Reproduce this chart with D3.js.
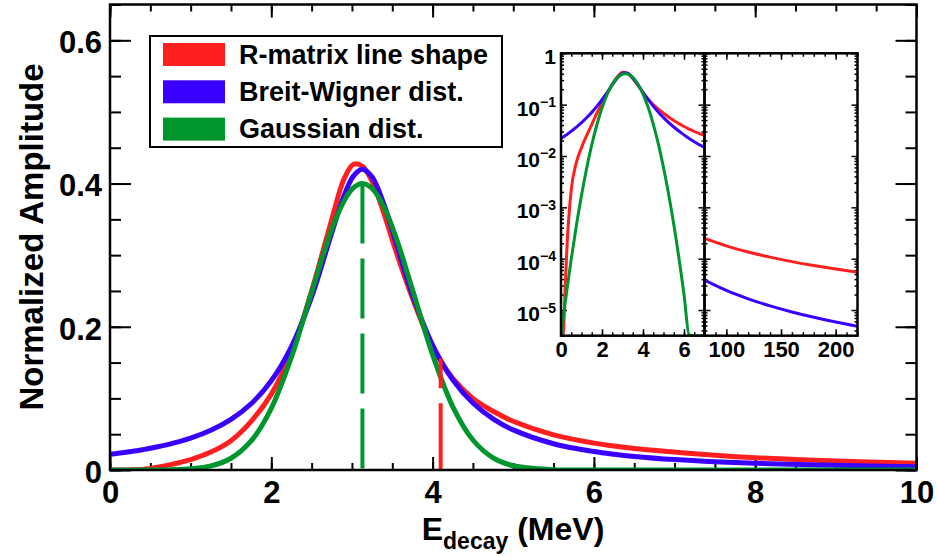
<!DOCTYPE html>
<html>
<head>
<meta charset="utf-8">
<script src="https://cdn.jsdelivr.net/npm/d3@7"></script>
<style>
  html, body { margin: 0; padding: 0; background: #fff; }
  svg { display: block; font-family: "Liberation Sans", Arial, Helvetica, sans-serif; font-weight: bold; }
</style>
</head>
<body>
<svg id="chart" width="938" height="557"></svg>
<script>
// ---- line-shape values (normalized amplitude) on a shared decay-energy grid, MeV ----
const energies = [0, 0.1, 0.2, 0.3, 0.4, 0.5, 0.75, 1, 1.25, 1.5, 1.75, 2, 2.25, 2.5, 2.75,
  2.9, 3.02, 3.13, 3.25, 3.4, 3.55, 3.75, 4, 4.25, 4.5, 4.75, 5, 5.5, 6, 6.25, 6.5, 7, 7.5, 8, 9, 10];

const rMatrix = [0, 2e-6, 2.5e-5, 2.0e-4, 8.0e-4, 2.2e-3, 7.5e-3, 0.0145, 0.0250, 0.041, 0.068,
  0.106, 0.164, 0.250, 0.350, 0.406, 0.427, 0.424, 0.403, 0.357, 0.304, 0.240, 0.172, 0.128,
  0.100, 0.082, 0.068, 0.049, 0.0375, 0.0335, 0.0300, 0.0250, 0.0205, 0.0170, 0.0125, 0.0096];

const breitWigner = [0.0219, 0.0233, 0.0248, 0.0264, 0.0283, 0.0303, 0.0364, 0.0445, 0.0555,
  0.0707, 0.0925, 0.1245, 0.1723, 0.2417, 0.3312, 0.3825, 0.4108, 0.4201, 0.4091, 0.3699,
  0.3163, 0.2450, 0.1745, 0.1261, 0.0936, 0.0715, 0.0560, 0.0367, 0.0258, 0.0220, 0.0190,
  0.0146, 0.0115, 0.0093, 0.0065, 0.0047];

const gaussian = [3.08e-6, 6.45e-6, 1.32e-5, 2.64e-5, 5.15e-5, 9.8e-5, 4.42e-4, 1.71e-3,
  5.72e-3, 0.01642, 0.04056, 0.0862, 0.1578, 0.2482, 0.3363, 0.3754, 0.3942, 0.4000, 0.3931,
  0.3664, 0.3236, 0.2520, 0.1610, 0.0886, 0.0419, 0.01707, 5.98e-3, 4.68e-4, 2.01e-5, 3.3e-6,
  4.7e-7, 6e-9, 0, 0, 0, 0];

// far high-energy tail
const tailEnergies = [80, 100, 120, 140, 160, 180, 200, 220];
const rMatrixTail = [2.48e-4, 1.775e-4, 1.350e-4, 1.071e-4, 8.77e-5, 7.35e-5, 6.27e-5, 5.44e-5];
const breitWignerTail = [3.825e-5, 2.408e-5, 1.655e-5, 1.206e-5, 9.18e-6, 7.22e-6, 5.83e-6, 4.81e-6];

// vertical reference lines: energy and height
const markerEnergies = [4.10, 3.13];
const markerHeights = [0.156, 0.400];

const seriesNames = ["R-matrix line shape", "Breit-Wigner dist.", "Gaussian dist."];
const seriesColors = ["#ff1f1f", "#3a00ff", "#00962e"];

const xTickValues = [0, 2, 4, 6, 8, 10];
const xTickLabels = ["0", "2", "4", "6", "8", "10"];
const yTickValues = [0, 0.2, 0.4, 0.6];
const yTickLabels = ["0", "0.2", "0.4", "0.6"];
const insetLeftTicks = [0, 2, 4, 6];
const insetRightTicks = [100, 150, 200];
const insetDecades = [1, 1e-1, 1e-2, 1e-3, 1e-4, 1e-5];
const insetDecadeExponents = [0, -1, -2, -3, -4, -5];

// ---------------------------------------------------------------------------
const svg = d3.select("#chart");
const fr = { left: 110, right: 916.5, top: 4.5, bottom: 470 };

const x = d3.scaleLinear().domain([0, 10]).range([fr.left, fr.right]);
const y = d3.scaleLinear().domain([0, 0.65]).range([fr.bottom, fr.top]);

function cleanAxis(g, width) {
  g.select(".domain").remove();
  g.attr("font-family", null).attr("font-size", null);
  g.selectAll(".tick line").attr("stroke", "#000").attr("stroke-width", width);
}

// minor / major tick lists
const xMinor = d3.range(0, 10.001, 0.5);
const yMinor = d3.range(0, 0.6501, 0.05);

// bottom
svg.append("g").attr("transform", `translate(0,${fr.bottom})`)
  .call(d3.axisBottom(x).tickValues(xMinor).tickSize(-7).tickSizeOuter(0).tickFormat(""))
  .call(g => cleanAxis(g, 2));
svg.append("g").attr("transform", `translate(0,${fr.bottom})`)
  .call(d3.axisBottom(x).tickValues(xTickValues).tickSize(-13).tickSizeOuter(0).tickPadding(11)
    .tickFormat((d, i) => xTickLabels[i]))
  .call(g => cleanAxis(g, 2))
  .call(g => g.selectAll(".tick text").attr("font-size", 31).attr("fill", "#000"));
// top
svg.append("g").attr("transform", `translate(0,${fr.top})`)
  .call(d3.axisTop(x).tickValues(xMinor).tickSize(-7).tickSizeOuter(0).tickFormat(""))
  .call(g => cleanAxis(g, 2));
svg.append("g").attr("transform", `translate(0,${fr.top})`)
  .call(d3.axisTop(x).tickValues(xTickValues).tickSize(-13).tickSizeOuter(0).tickFormat(""))
  .call(g => cleanAxis(g, 2));
// left
svg.append("g").attr("transform", `translate(${fr.left},0)`)
  .call(d3.axisLeft(y).tickValues(yMinor).tickSize(-11).tickSizeOuter(0).tickFormat(""))
  .call(g => cleanAxis(g, 2));
svg.append("g").attr("transform", `translate(${fr.left},0)`)
  .call(d3.axisLeft(y).tickValues(yTickValues).tickSize(-21).tickSizeOuter(0).tickPadding(8)
    .tickFormat((d, i) => yTickLabels[i]))
  .call(g => cleanAxis(g, 2))
  .call(g => g.selectAll(".tick text").attr("font-size", 31).attr("dy", "0.4em").attr("fill", "#000"));
// right
svg.append("g").attr("transform", `translate(${fr.right},0)`)
  .call(d3.axisRight(y).tickValues(yMinor).tickSize(-11).tickSizeOuter(0).tickFormat(""))
  .call(g => cleanAxis(g, 2));
svg.append("g").attr("transform", `translate(${fr.right},0)`)
  .call(d3.axisRight(y).tickValues(yTickValues).tickSize(-21).tickSizeOuter(0).tickFormat(""))
  .call(g => cleanAxis(g, 2));

// clip for the main curves
const defs = svg.append("defs");
defs.append("clipPath").attr("id", "mainClip").append("rect")
  .attr("x", fr.left).attr("y", fr.top).attr("width", fr.right - fr.left).attr("height", fr.bottom - fr.top);

const mainLine = d3.line().x(d => x(d[0])).y(d => y(d[1])).curve(d3.curveCatmullRom.alpha(0.5));
const mainSeries = [rMatrix, breitWigner, gaussian];
const curves = svg.append("g").attr("clip-path", "url(#mainClip)");
mainSeries.forEach((vals, i) => {
  curves.append("path")
    .datum(energies.map((e, k) => [e, vals[k]]))
    .attr("d", mainLine)
    .attr("fill", "none")
    .attr("stroke", seriesColors[i])
    .attr("stroke-width", 5)
    .attr("stroke-linejoin", "round");
});

// dashed vertical reference lines (R-matrix, Gaussian)
const markerColors = [seriesColors[0], seriesColors[2]];
const markerDash = ["30 15 75 15", "60 15"];
markerEnergies.forEach((e, i) => {
  curves.append("line")
    .attr("x1", x(e)).attr("x2", x(e))
    .attr("y1", y(markerHeights[i])).attr("y2", y(0))
    .attr("stroke", markerColors[i])
    .attr("stroke-width", 4)
    .attr("stroke-dasharray", markerDash[i]);
});

// frame
svg.append("rect")
  .attr("x", fr.left).attr("y", fr.top)
  .attr("width", fr.right - fr.left).attr("height", fr.bottom - fr.top)
  .attr("fill", "none").attr("stroke", "#000").attr("stroke-width", 2.5);

// axis titles
svg.append("text")
  .attr("transform", "translate(43,237) rotate(-90)")
  .attr("text-anchor", "middle")
  .attr("font-size", 33)
  .attr("fill", "#000")
  .text("Normalized Amplitude");

const xTitle = svg.append("text")
  .attr("x", 513).attr("y", 540)
  .attr("text-anchor", "middle")
  .attr("font-size", 32)
  .attr("fill", "#000");
xTitle.append("tspan").text("E");
xTitle.append("tspan").attr("font-size", 23).attr("dy", 9).text("decay");
xTitle.append("tspan").attr("dy", -9).text(" (MeV)");

// legend
const legend = svg.append("g");
legend.append("rect")
  .attr("x", 150).attr("y", 36).attr("width", 352).attr("height", 111)
  .attr("fill", "#fff").attr("stroke", "#000").attr("stroke-width", 2);
seriesNames.forEach((name, i) => {
  const cy = 54.5 + i * 37.3;
  legend.append("rect")
    .attr("x", 163).attr("y", cy - 11.5).attr("width", 62).attr("height", 23)
    .attr("fill", seriesColors[i]);
  legend.append("text")
    .attr("x", 239).attr("y", cy + 9.3)
    .attr("font-size", 27)
    .attr("fill", "#000")
    .text(name);
});

// ---------------------------------------------------------------------------
// inset: logarithmic view, split energy axis
const ins = { top: 53.3, bottom: 335.7, left: 561, mid: 704.5, right: 857.5 };
const iy = d3.scaleLog().domain([Math.pow(10, -5.5), 1]).range([ins.bottom, ins.top]).clamp(true);
const ixL = d3.scaleLinear().domain([0, 7]).range([ins.left, ins.mid]);
const ixR = d3.scaleLinear().domain([80, 220]).range([ins.mid, ins.right]);

const inset = svg.append("g");
inset.append("rect")
  .attr("x", ins.left).attr("y", ins.top)
  .attr("width", ins.right - ins.left).attr("height", ins.bottom - ins.top)
  .attr("fill", "#fff");

// minor decade ticks
const logMinor = [];
for (let p = -6; p <= -1; p++) {
  for (let m = 2; m <= 9; m++) {
    const v = m * Math.pow(10, p);
    if (v >= Math.pow(10, -5.5) && v < 1) logMinor.push(v);
  }
}

function insetYAxis(xpos, axisGen, labels) {
  inset.append("g").attr("transform", `translate(${xpos},0)`)
    .call(axisGen(iy).tickValues(logMinor).tickSize(-3).tickSizeOuter(0).tickFormat(""))
    .call(g => cleanAxis(g, 1.5));
  const g = inset.append("g").attr("transform", `translate(${xpos},0)`)
    .call(axisGen(iy).tickValues(insetDecades).tickSize(-6).tickSizeOuter(0).tickPadding(5).tickFormat(""))
    .call(g => cleanAxis(g, 1.5));
  if (labels) {
    g.selectAll(".tick text").each(function (d, i) {
      const t = d3.select(this).attr("font-size", 21).attr("fill", "#000").attr("dy", "0.5em");
      const ex = insetDecadeExponents[i];
      if (ex === 0) {
        t.text("1");
      } else {
        t.append("tspan").text("10");
        t.append("tspan").attr("font-size", 14).attr("dy", -8.5).text("\u2212" + (-ex));
      }
    });
  }
}

function insetXAxis(scale, majors, minors, withLabels) {
  [ins.bottom, ins.top].forEach((ypos, j) => {
    const gen = j === 0 ? d3.axisBottom : d3.axisTop;
    inset.append("g").attr("transform", `translate(0,${ypos})`)
      .call(gen(scale).tickValues(minors).tickSize(-3.5).tickSizeOuter(0).tickFormat(""))
      .call(g => cleanAxis(g, 1.5));
    inset.append("g").attr("transform", `translate(0,${ypos})`)
      .call(gen(scale).tickValues(majors).tickSize(-6.5).tickSizeOuter(0).tickPadding(6)
        .tickFormat(j === 0 && withLabels ? d3.format("d") : ""))
      .call(g => cleanAxis(g, 1.5))
      .call(g => g.selectAll(".tick text").attr("font-size", 22).attr("fill", "#000"));
  });
}

insetXAxis(ixL, insetLeftTicks, d3.range(0, 7.001, 0.5), true);
insetXAxis(ixR, insetRightTicks, d3.range(80, 220.001, 10), true);
insetYAxis(ins.left, d3.axisLeft, true);
insetYAxis(ins.mid, d3.axisRight, false);
insetYAxis(ins.mid, d3.axisLeft, false);
insetYAxis(ins.right, d3.axisRight, false);

defs.append("clipPath").attr("id", "insetL").append("rect")
  .attr("x", ins.left).attr("y", ins.top).attr("width", ins.mid - ins.left).attr("height", ins.bottom - ins.top);
defs.append("clipPath").attr("id", "insetR").append("rect")
  .attr("x", ins.mid).attr("y", ins.top).attr("width", ins.right - ins.mid).attr("height", ins.bottom - ins.top);

const lineL = d3.line().x(d => ixL(d[0])).y(d => iy(d[1])).curve(d3.curveMonotoneX);
const lineR = d3.line().x(d => ixR(d[0])).y(d => iy(d[1])).curve(d3.curveMonotoneX);

const gL = inset.append("g").attr("clip-path", "url(#insetL)");
mainSeries.forEach((vals, i) => {
  const pts = energies.map((e, k) => [e, vals[k]]).filter(d => d[0] <= 7.5);
  gL.append("path").datum(pts).attr("d", lineL)
    .attr("fill", "none").attr("stroke", seriesColors[i]).attr("stroke-width", 3);
});
const gR = inset.append("g").attr("clip-path", "url(#insetR)");
[rMatrixTail, breitWignerTail].forEach((vals, i) => {
  gR.append("path").datum(tailEnergies.map((e, k) => [e, vals[k]])).attr("d", lineR)
    .attr("fill", "none").attr("stroke", seriesColors[i]).attr("stroke-width", 3);
});

// inset frames
[[ins.left, ins.mid], [ins.mid, ins.right]].forEach(([a, b]) => {
  inset.append("rect")
    .attr("x", a).attr("y", ins.top).attr("width", b - a).attr("height", ins.bottom - ins.top)
    .attr("fill", "none").attr("stroke", "#000").attr("stroke-width", 2.5);
});
</script>
</body>
</html>
